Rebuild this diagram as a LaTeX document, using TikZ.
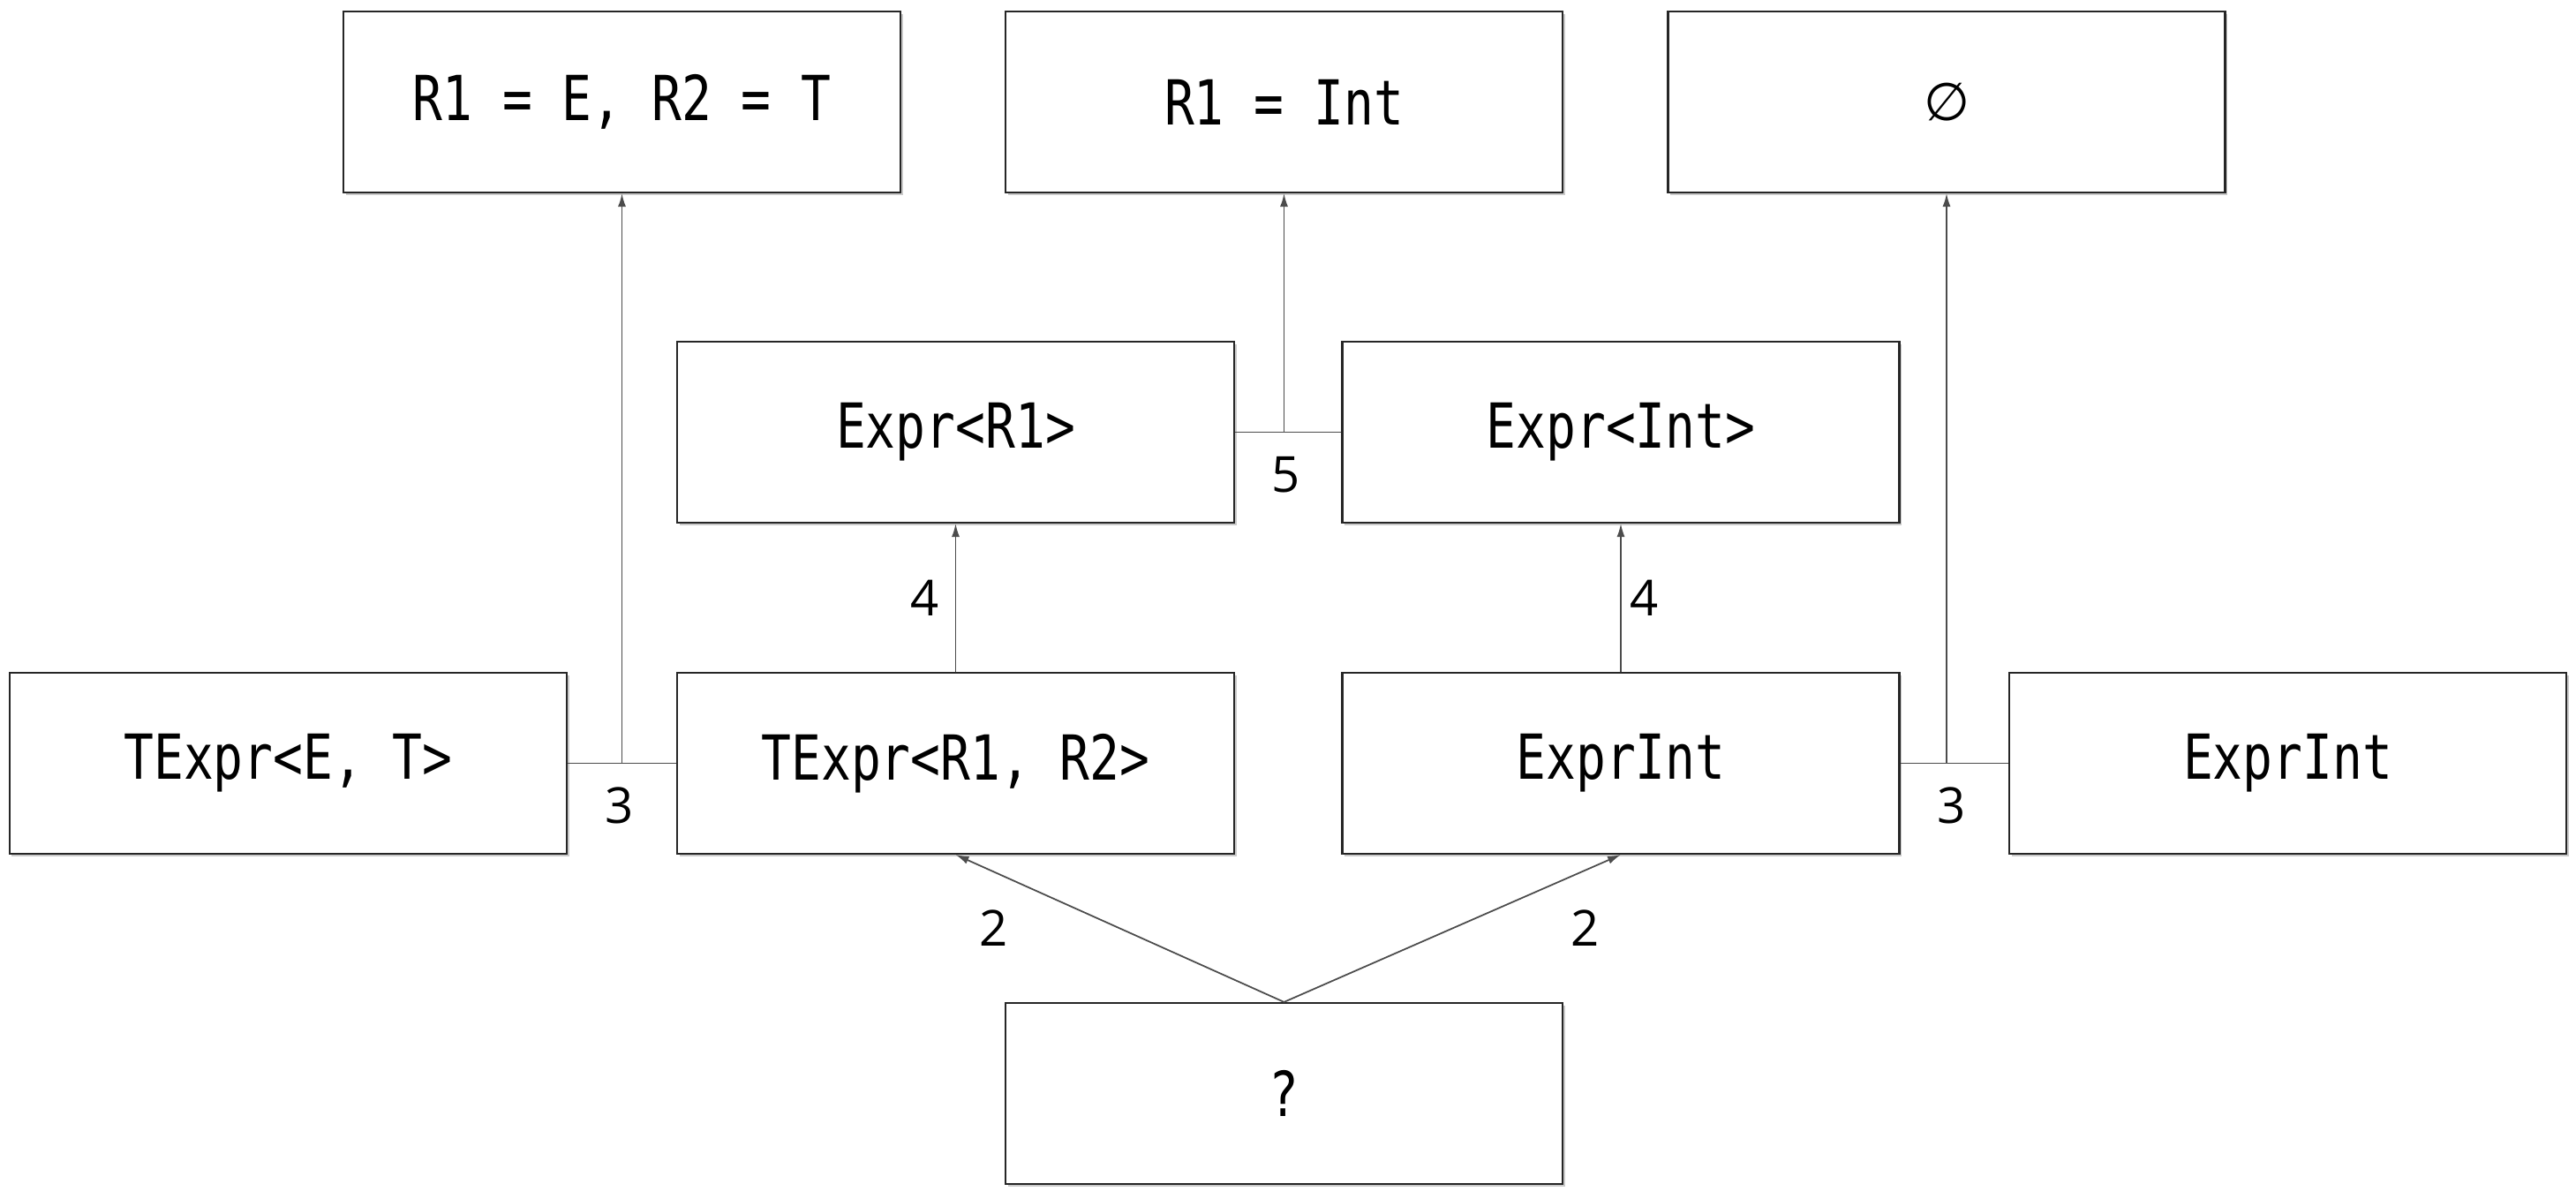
\documentclass[tikz,border=0pt]{standalone}
\usepackage{fontspec}
\usepackage{tikz}
\usetikzlibrary{arrows.meta, positioning, calc, shadows}
\newfontfamily\boxfont[FakeStretch=0.8]{DejaVu Sans Mono}
\newfontfamily\numfont{Open Sans}
\newfontfamily\symfont{DejaVu Sans}

\begin{document}
\begin{tikzpicture}[
    box/.style={rectangle, draw=black!85, line width=0.6pt, fill=white,
        minimum height=2.05cm, minimum width=6.31cm, align=center,
        font=\boxfont\fontsize{20}{24}\selectfont,
        drop shadow={shadow xshift=0.25mm, shadow yshift=-0.35mm, opacity=0.35, fill=black!60}},
    lbl/.style={font=\numfont\fontsize{16}{19}\selectfont, inner sep=0pt},
    link/.style={draw=black!70, line width=0.5pt},
    arr/.style={link, -{Latex[length=1.5mm, width=0.9mm]}}
]
    \useasboundingbox (0,0) rectangle (29.18,13.58);

    % Results
    \node[box] (res1) at (7.045,12.425) {R1 = E, R2 = T};
    \node[box] (res2) at (14.545,12.425) {R1 = Int};
    \node[box] (res3) at (22.05,12.425) {{\symfont\fontsize{17}{20}\selectfont ∅}};

    % Expr layer
    \node[box] (exr) at (10.825,8.685) {Expr<R1>};
    \node[box] (exi) at (18.36,8.685) {Expr<Int>};

    % TExpr / ExprInt layer
    \node[box] (tet) at (3.265,4.935) {TExpr<E, T>};
    \node[box] (ter) at (10.825,4.935) {TExpr<R1, R2>};
    \node[box] (ein) at (18.36,4.935) {ExprInt};
    \node[box] (ein2) at (25.915,4.935) {ExprInt};

    % Unknown
    \node[box] (unk) at (14.545,1.195) {?};

    % Step 2
    \draw[arr] (unk.north) -- (ter.south);
    \draw[arr] (unk.north) -- (ein.south);
    \node[lbl] (n2a) at (11.26,3.07) {2};
    \node[lbl] (n2b) at (17.96,3.07) {2};

    % Step 3
    \coordinate (m3a) at (res1.south |- tet.east);
    \coordinate (m3b) at (res3.south |- ein.east);
    \draw[link] (tet.east) -- (ter.west);
    \draw[link] (ein.east) -- (ein2.west);
    \draw[arr] (m3a) -- (res1.south);
    \draw[arr] (m3b) -- (res3.south);
    \node[lbl] (n3a) at (7.02,4.46) {3};
    \node[lbl] (n3b) at (22.11,4.46) {3};

    % Step 4
    \draw[arr] (ter.north) -- (exr.south);
    \draw[arr] (ein.north) -- (exi.south);
    \node[lbl] (n4a) at (10.48,6.81) {4};
    \node[lbl] (n4b) at (18.63,6.81) {4};

    % Step 5
    \coordinate (m5) at (res2.south |- exr.east);
    \draw[link] (exr.east) -- (exi.west);
    \draw[arr] (m5) -- (res2.south);
    \node[lbl] (n5) at (14.57,8.2) {5};
\end{tikzpicture}
\end{document}
